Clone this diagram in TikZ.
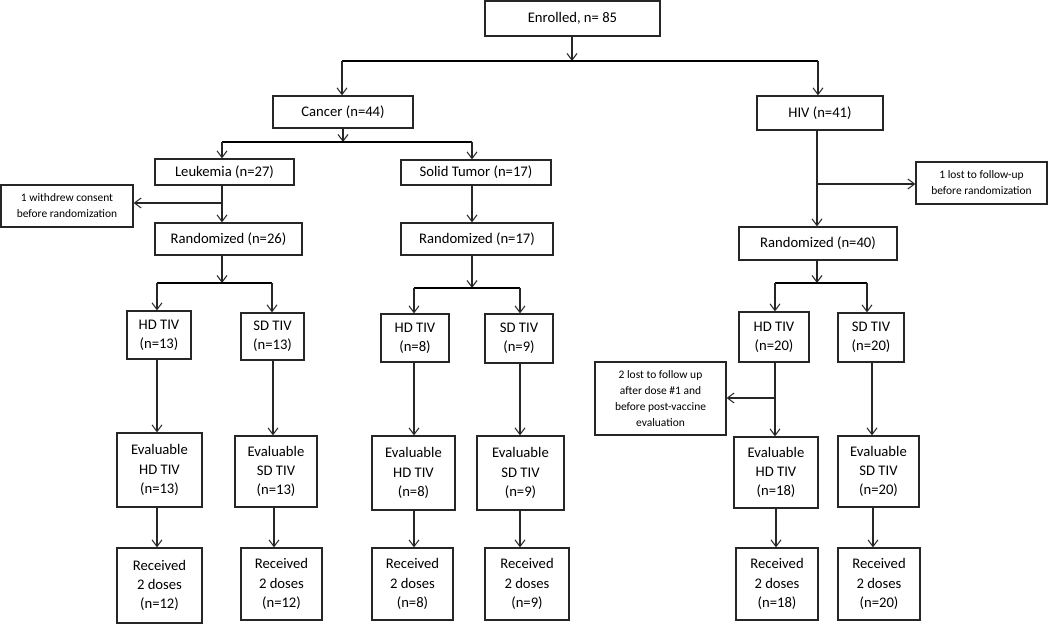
\documentclass[tikz,border=0pt]{standalone}
\usepackage{fontspec}
\setmainfont{Carlito}
\usetikzlibrary{arrows.meta}
\begin{document}
\begin{tikzpicture}[x=0.75pt,y=-0.75pt,
  bx/.style 2 args={draw=black!85, line width=0.9pt, minimum width=#1*0.75pt, minimum height=#2*0.75pt,
     inner sep=0pt, align=center, font=\fontsize{11}{14.5}\selectfont, text=black},
  sbx/.style 2 args={bx={#1}{#2}, font=\fontsize{8.6}{12}\selectfont},
  arr/.style={draw=black!85, line width=0.8pt, -{Straight Barb[length=5pt,width=7.5pt]}},
  bar/.style={draw=black, line width=1.4pt}]
\useasboundingbox (0,0) rectangle (1050,624);
% top
\node[bx={175}{35}] (enr) at (572.5,18.5) {Enrolled, n= 85};
\node[bx={140}{32}] (cancer) at (343,112) {Cancer (n=44)};
\node[bx={126}{34}] (hiv) at (820,113) {HIV (n=41)};
\node[bx={139}{26}] (leuk) at (224.5,172) {Leukemia (n=27)};
\node[bx={150}{25}] (solid) at (476,172.5) {Solid Tumor (n=17)};
\node[sbx={132}{42}] (withdrew) at (67,206) {1 withdrew consent\\before randomization};
\node[bx={147}{32}] (rand1) at (228.5,239) {Randomized (n=26)};
\node[bx={152}{32}] (rand2) at (477,239) {Randomized (n=17)};
\node[sbx={131}{42}] (lost1) at (981.5,183) {1 lost to follow-up\\before randomization};
\node[bx={158}{33}] (rand3) at (818,243.5) {Randomized (n=40)};
% arm row
\node[bx={64}{48}] (hd1) at (159,335) {HD TIV\\(n=13)};
\node[bx={63}{47}] (sd1) at (272.5,336.5) {SD TIV\\(n=13)};
\node[bx={68}{48}] (hd2) at (415,338) {HD TIV\\(n=8)};
\node[bx={68}{49}] (sd2) at (519,338.5) {SD TIV\\(n=9)};
\node[bx={70}{50}] (hd3) at (774,337) {HD TIV\\(n=20)};
\node[bx={66}{49}] (sd3) at (871,337.5) {SD TIV\\(n=20)};
% evaluable row
\node[bx={85}{74}] (ev1) at (159.5,470) {Evaluable\\HD TIV\\(n=13)};
\node[bx={82}{71}] (ev2) at (276,471.5) {Evaluable\\SD TIV\\(n=13)};
\node[bx={83}{74}] (ev3) at (413.5,473) {Evaluable\\HD TIV\\(n=8)};
\node[bx={87}{74}] (ev4) at (520.5,473) {Evaluable\\SD TIV\\(n=9)};
\node[bx={84}{71}] (ev5) at (776,472.5) {Evaluable\\HD TIV\\(n=18)};
\node[bx={81}{71}] (ev6) at (878.5,471.5) {Evaluable\\SD TIV\\(n=20)};
% received row
\node[bx={85}{75}] (rc1) at (159.5,585.5) {Received\\2 doses\\(n=12)};
\node[bx={81}{72}] (rc2) at (281.5,584) {Received\\2 doses\\(n=12)};
\node[bx={81}{72}] (rc3) at (412.5,584) {Received\\2 doses\\(n=8)};
\node[bx={84}{72}] (rc4) at (527,584) {Received\\2 doses\\(n=9)};
\node[bx={82}{72}] (rc5) at (777,584) {Received\\2 doses\\(n=18)};
\node[bx={82}{72}] (rc6) at (879,584) {Received\\2 doses\\(n=20)};
\node[sbx={131}{73}] (lost2) at (660.5,398.5) {2 lost to follow up\\after dose \#1 and\\before post-vaccine\\evaluation};
% connector coordinates
\coordinate (b0) at (572,61);
\coordinate (b0L) at (342,61);
\coordinate (b0R) at (818,61);
\coordinate (b1) at (343,142);
\coordinate (b1L) at (222,142);
\coordinate (b1R) at (472,142);
\coordinate (wj) at (222,203);
\coordinate (hj) at (817,184);
\coordinate (b2) at (222,283);
\coordinate (b2L) at (157,283);
\coordinate (b2R) at (272,283);
\coordinate (b3) at (472,288);
\coordinate (b3L) at (414,288);
\coordinate (b3R) at (520,288);
\coordinate (b4) at (817,283);
\coordinate (b4L) at (775,283);
\coordinate (b4R) at (867,283);
\coordinate (lj) at (775,398);
\coordinate (s1) at (273,400);
\coordinate (s1b) at (274,520);
\coordinate (s3) at (872,400);
\coordinate (s3b) at (873,520);
% enrolled split
\draw[arr] (enr.south -| b0) -- (b0);
\draw[bar] (b0L) -- (b0R);
\draw[arr] (b0L) -- (b0L |- cancer.north);
\draw[arr] (b0R) -- (b0R |- hiv.north);
% cancer split
\draw[arr] (cancer.south -| b1) -- (b1);
\draw[bar] (b1L) -- (b1R);
\draw[arr] (b1L) -- (b1L |- leuk.north);
\draw[arr] (b1R) -- (b1R |- solid.north);
% leukemia
\draw[arr] (leuk.south -| b1L) -- (b1L |- rand1.north);
\draw[arr] (wj) -- (wj -| withdrew.east);
% solid
\draw[arr] (solid.south -| b1R) -- (b1R |- rand2.north);
% hiv
\draw[arr] (hiv.south -| hj) -- (hj |- rand3.north);
\draw[arr] (hj) -- (hj -| lost1.west);
% randomized splits
\draw[arr] (rand1.south -| b2) -- (b2);
\draw[bar] (b2L) -- (b2R);
\draw[arr] (b2L) -- (b2L |- hd1.north);
\draw[arr] (b2R) -- (b2R |- sd1.north);
\draw[arr] (rand2.south -| b3) -- (b3);
\draw[bar] (b3L) -- (b3R);
\draw[arr] (b3L) -- (b3L |- hd2.north);
\draw[arr] (b3R) -- (b3R |- sd2.north);
\draw[arr] (rand3.south -| b4) -- (b4);
\draw[bar] (b4L) -- (b4R);
\draw[arr] (b4L) -- (b4L |- hd3.north);
\draw[arr] (b4R) -- (b4R |- sd3.north);
% arms to evaluable
\draw[arr] (hd1.south -| b2L) -- (b2L |- ev1.north);
\draw[arr] (sd1.south -| s1) -- (s1 |- ev2.north);
\draw[arr] (hd2.south -| b3L) -- (b3L |- ev3.north);
\draw[arr] (sd2.south -| b3R) -- (b3R |- ev4.north);
\draw[arr] (hd3.south -| lj) -- (lj |- ev5.north);
\draw[arr] (sd3.south -| s3) -- (s3 |- ev6.north);
\draw[arr] (lj) -- (lj -| lost2.east);
% evaluable to received
\draw[arr] (ev1.south -| b2L) -- (b2L |- rc1.north);
\draw[arr] (ev2.south -| s1b) -- (s1b |- rc2.north);
\draw[arr] (ev3.south -| b3L) -- (b3L |- rc3.north);
\draw[arr] (ev4.south -| b3R) -- (b3R |- rc4.north);
\draw[arr] (ev5.south) -- (ev5.south |- rc5.north);
\draw[arr] (ev6.south -| s3b) -- (s3b |- rc6.north);
\end{tikzpicture}
\end{document}
